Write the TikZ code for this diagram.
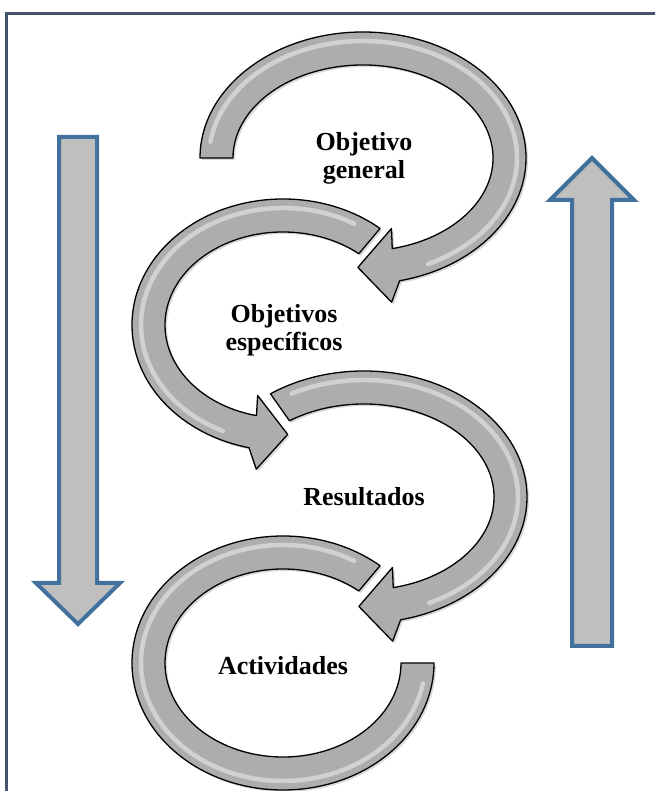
\documentclass[tikz,border=0pt]{standalone}
\usepackage{fontspec}
\setmainfont{Liberation Serif}
\usepackage{xcolor}
\usepackage{tikz}
\usetikzlibrary{shapes,arrows,positioning,calc,shadows}

\definecolor{framecol}{HTML}{44546A}
\definecolor{bluearr}{HTML}{41719C}
\definecolor{fillarr}{HTML}{BFBFBF}
\definecolor{bandgray}{HTML}{ADADAD}

\begin{document}
\begin{tikzpicture}[x=1pt,y=1pt,
    band/.style={fill=bandgray, draw=black, line width=1.3pt, line join=round,
      drop shadow={opacity=0.3, shadow xshift=2pt, shadow yshift=-2pt}},
    shine/.style={white, line width=4.5pt, opacity=0.45, line cap=round},
    bigarrow/.style={fill=fillarr, draw=bluearr, line width=4pt, line join=miter},
    lbl/.style={font=\fontsize{26}{28}\selectfont\bfseries, align=center}]
    \useasboundingbox (0,0) rectangle (655,791);
    \clip (0,0) rectangle (655,791);
    \draw[framecol, line width=3pt] (6,777) rectangle (700,-40);

    \coordinate (c1) at (363,633);
    \coordinate (c2) at (283,466);
    \coordinate (c3) at (364,294);
    \coordinate (c4) at (283,128);

    \begin{scope}[shift={(c4)}]
      \draw[band] (50:151 and 127) arc[start angle=50, end angle=360, x radius=151, y radius=127]
        -- (0:118 and 94) arc[start angle=360, end angle=50, x radius=118, y radius=94] -- cycle;
      \draw[shine] (60:142 and 118) arc[start angle=60, end angle=350, x radius=142, y radius=118];
    \end{scope}
    \begin{scope}[shift={(c3)}]
      \draw[band] (125:163 and 126) arc[start angle=125, end angle=-77, x radius=163, y radius=126]
        -- (-81:183 and 146) -- (-92:146.5 and 109.5) -- (-75:110 and 73) -- (-77:130 and 93)
        arc[start angle=-77, end angle=125, x radius=130, y radius=93] -- cycle;
      \draw[shine] (118:154 and 117) arc[start angle=118, end angle=-65, x radius=154, y radius=117];
    \end{scope}
    \begin{scope}[shift={(c2)}]
      \draw[band] (50:151 and 126) arc[start angle=50, end angle=257, x radius=151, y radius=126]
        -- (261:171 and 146) -- (272:134.5 and 109.5) -- (255:98 and 73) -- (257:118 and 93)
        arc[start angle=257, end angle=50, x radius=118, y radius=93] -- cycle;
      \draw[shine] (60:142 and 117) arc[start angle=60, end angle=245, x radius=142, y radius=117];
    \end{scope}
    \begin{scope}[shift={(c1)}]
      \draw[band] (180:163 and 126) arc[start angle=180, end angle=-77, x radius=163, y radius=126]
        -- (-81:183 and 146) -- (-92:146.5 and 109.5) -- (-75:110 and 73) -- (-77:130 and 93)
        arc[start angle=-77, end angle=180, x radius=130, y radius=93] -- cycle;
      \draw[shine] (172:154 and 117) arc[start angle=172, end angle=-65, x radius=154, y radius=117];
    \end{scope}

    \node[lbl] (gen) at (364,633) {Objetivo\\general};
    \node[lbl] (esp) at (284,461) {Objetivos\\específicos};
    \node[lbl] (res) at (364,294) {Resultados};
    \node[lbl] (act) at (283,125) {Actividades};

    \draw[bigarrow] (59,654) -- (97,654) -- (97,208) -- (120,208) -- (78,167) -- (36,208) -- (59,208) -- cycle;
    \draw[bigarrow] (572,145) -- (612,145) -- (612,591) -- (634,591) -- (592,633) -- (550,591) -- (572,591) -- cycle;
\end{tikzpicture}
\end{document}
